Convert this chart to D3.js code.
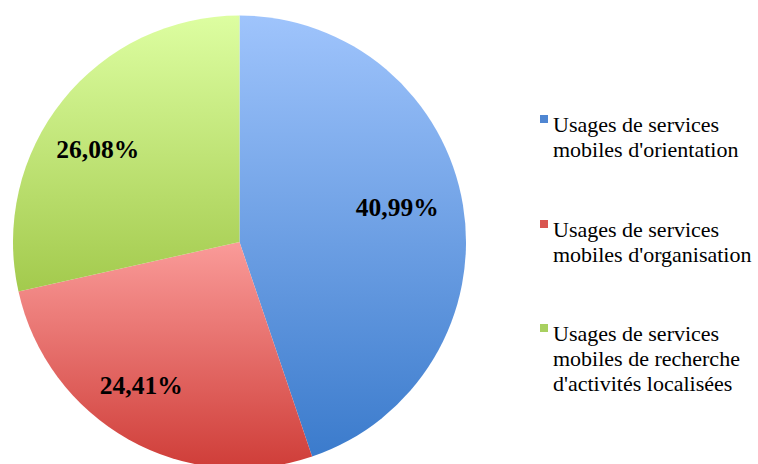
<!DOCTYPE html>
<html><head><meta charset="utf-8">
<script src="https://cdn.jsdelivr.net/npm/d3@7"></script>
<style>html,body{margin:0;padding:0;background:#fff;}svg{display:block;}</style>
</head><body>
<svg id="chart" width="758" height="464"></svg>
<script>
const categories = [
  ["Usages de services", "mobiles d'orientation"],
  ["Usages de services", "mobiles d'organisation"],
  ["Usages de services", "mobiles de recherche", "d'activités localisées"]
];
const values = [40.99, 24.41, 26.08];
const labels = ["40,99%", "24,41%", "26,08%"];
const gradTop = ["#9fc4fc", "#fa9b99", "#ddfea1"];
const gradBottom = ["#3b7bcc", "#cf3d38", "#a3ca4d"];
const legendColors = ["#4f86d2", "#d95550", "#a8d060"];

const svg = d3.select("#chart");
const cx = 239.5, cy = 242, R = 226.5;

const defs = svg.append("defs");
values.forEach((v, i) => {
  const g = defs.append("linearGradient").attr("id", "g" + i)
    .attr("x1", 0).attr("y1", 0).attr("x2", 0).attr("y2", 1);
  g.append("stop").attr("offset", "0%").attr("stop-color", gradTop[i]);
  g.append("stop").attr("offset", "100%").attr("stop-color", gradBottom[i]);
});

const pie = d3.pie().sort(null).value(d => d);
const arcs = pie(values);
const arc = d3.arc().innerRadius(0).outerRadius(R);
const labelArc = d3.arc().innerRadius(170).outerRadius(170);

const g = svg.append("g").attr("transform", `translate(${cx},${cy})`);
g.selectAll("path").data(arcs).join("path")
  .attr("d", arc)
  .attr("fill", (d, i) => `url(#g${i})`);

const labelOffsets = [[-10, -7], [-15, -5], [-9, 13]];
g.selectAll("text").data(arcs).join("text")
  .attr("transform", (d, i) => {
    const c = labelArc.centroid(d);
    return `translate(${c[0] + labelOffsets[i][0]},${c[1] + labelOffsets[i][1]})`;
  })
  .attr("text-anchor", "middle")
  .attr("dy", "0.35em")
  .attr("font-family", "'Liberation Serif', 'Times New Roman', serif")
  .attr("font-weight", "bold")
  .attr("font-size", 25.5)
  .attr("fill", "#000")
  .text((d, i) => labels[i]);

const legendTop = [132, 237, 341];
const lg = svg.append("g");
categories.forEach((lines, i) => {
  lg.append("rect").attr("x", 540).attr("y", legendTop[i] - 17)
    .attr("width", 8).attr("height", 8).attr("fill", legendColors[i]);
  const t = lg.append("text")
    .attr("font-family", "'Liberation Serif', 'Times New Roman', serif")
    .attr("font-size", 22).attr("fill", "#000");
  lines.forEach((ln, j) => {
    t.append("tspan").attr("x", 553).attr("y", legendTop[i] + j * 25).text(ln);
  });
});
</script>
</body></html>
